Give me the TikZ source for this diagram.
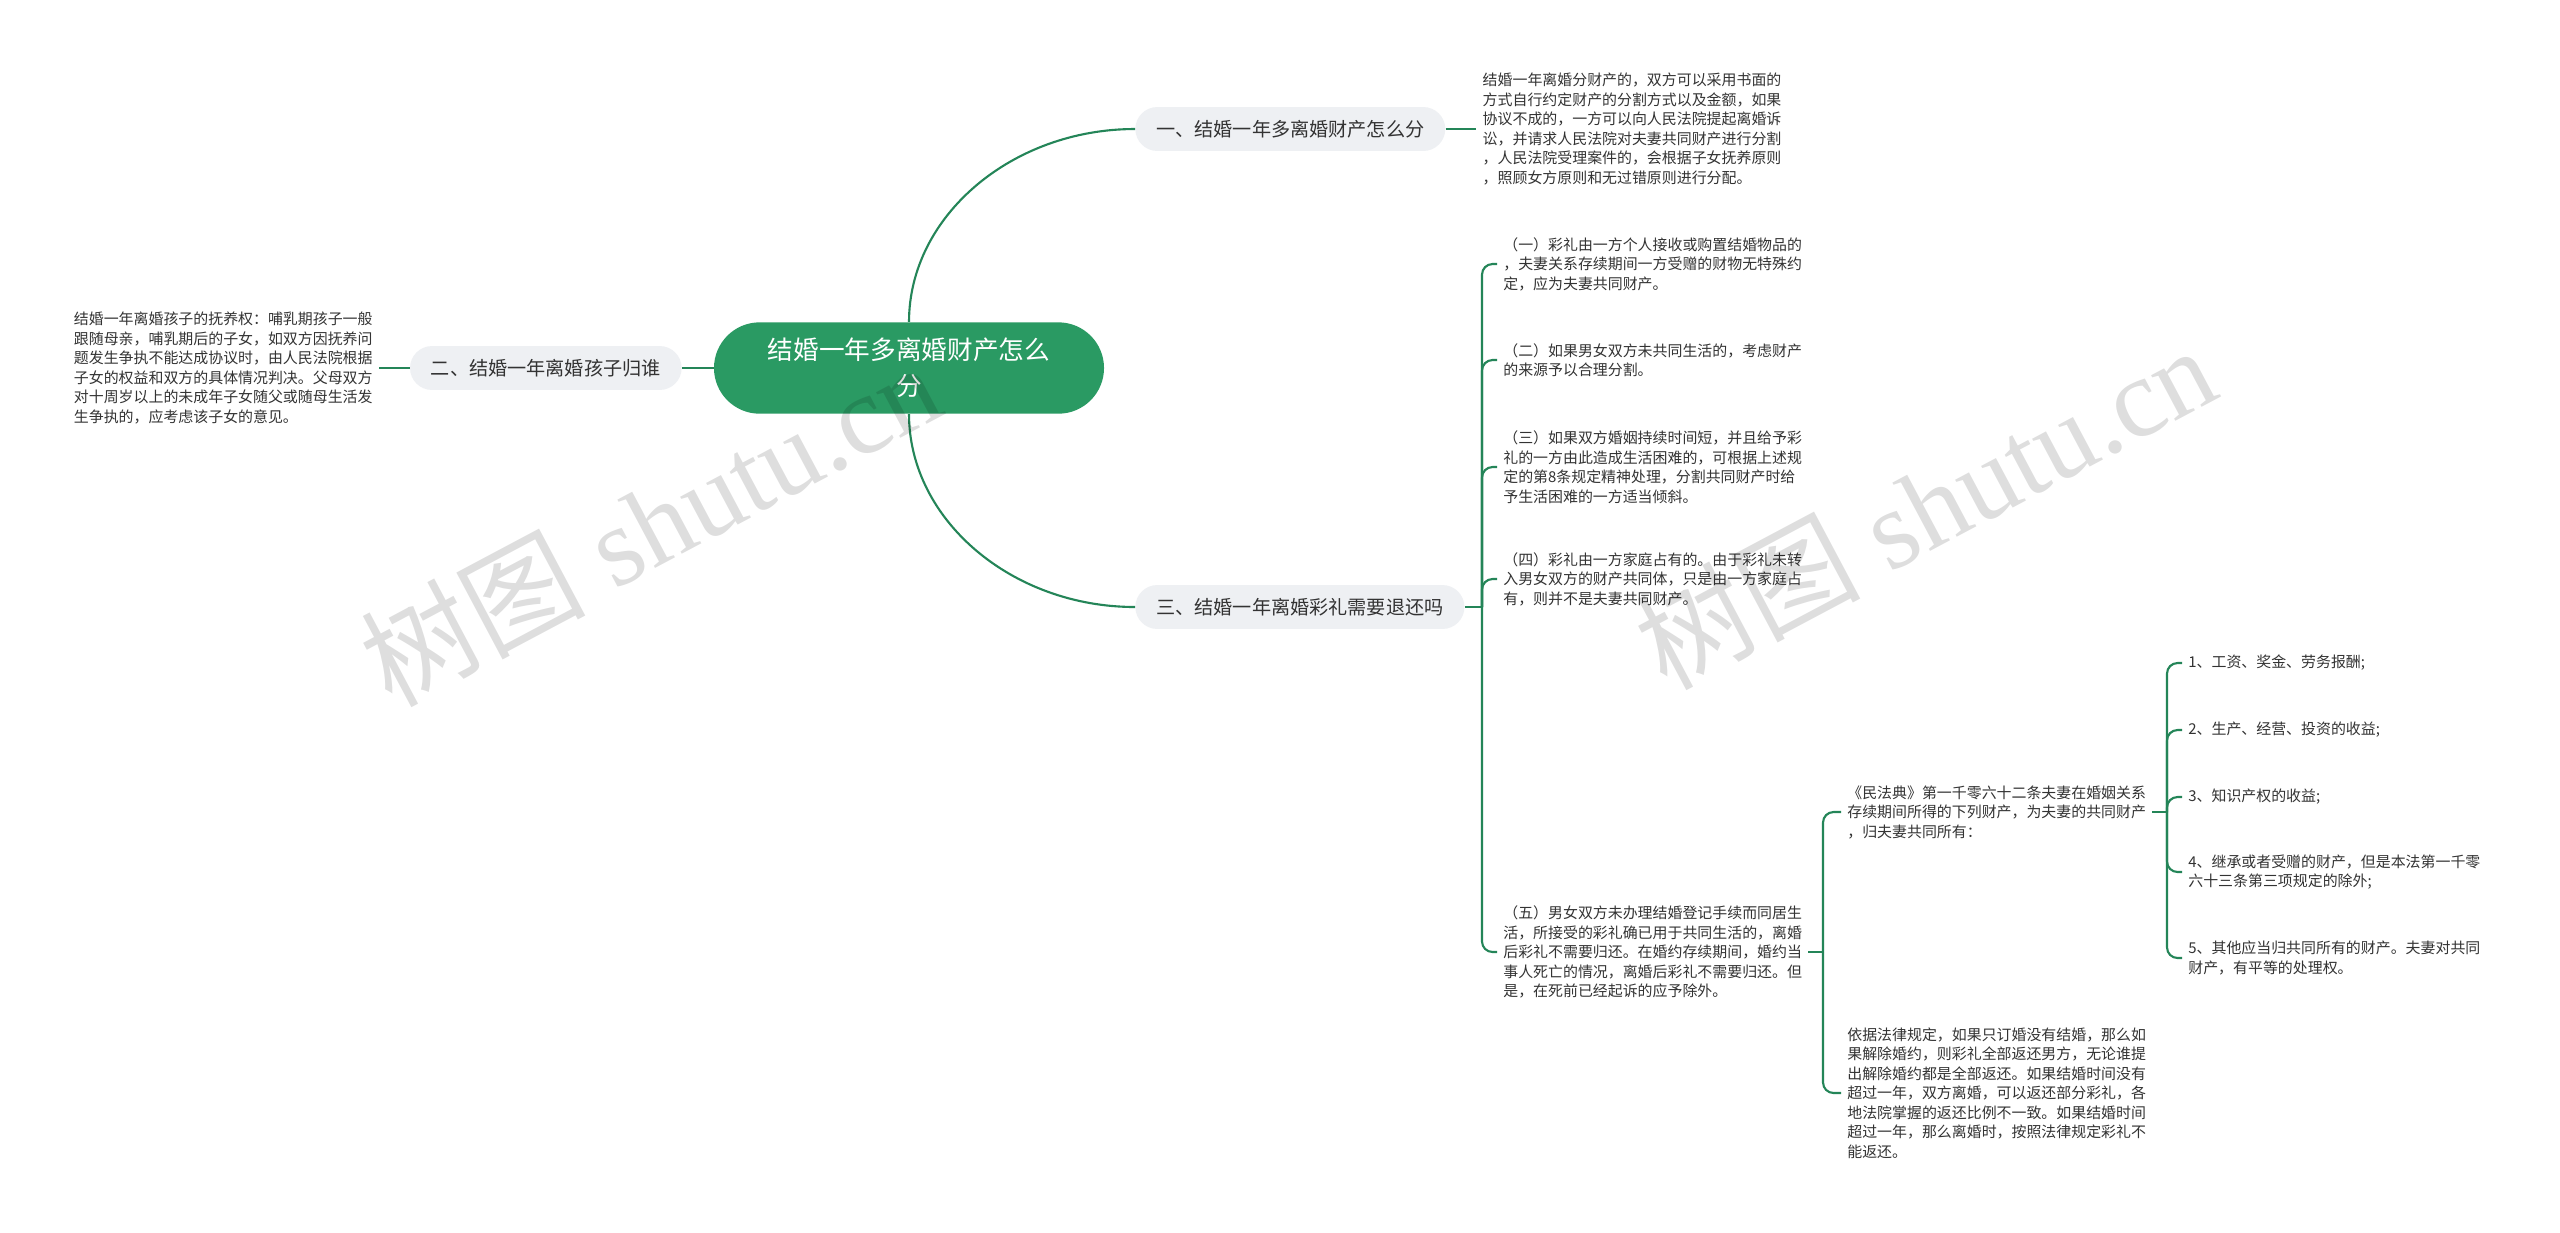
\documentclass[tikz,border=0pt]{standalone}
\usepackage{fontspec}
\newfontfamily\cjk{Noto Sans CJK SC}
\newfontfamily\wmlatin{Liberation Serif}
\usetikzlibrary{positioning}
\usepackage{xcolor}
\definecolor{rootgreen}{RGB}{42,154,99}
\definecolor{linkgreen}{RGB}{36,133,88}
\definecolor{branchgray}{RGB}{238,240,243}
\definecolor{textgray}{RGB}{51,51,51}
\newcommand{\leaffont}{\cjk\fontsize{8.5pt}{11.1pt}\selectfont}
\newcommand{\branchfont}{\cjk\fontsize{10.9pt}{13pt}\selectfont}
\newcommand{\rootfont}{\cjk\fontsize{14.6pt}{20.4pt}\selectfont}
\newcommand{\wmfont}{\wmlatin\fontsize{64pt}{64pt}\selectfont}
\tikzset{
  link/.style={draw=linkgreen,line width=1.2pt},
  root/.style={fill=rootgreen,text=white,rounded corners=26pt,font=\rootfont,align=center,minimum width=222pt,minimum height=52pt,inner sep=0pt},
  branch/.style={fill=branchgray,text=textgray,rounded corners=12.5pt,font=\branchfont,minimum height=25pt,inner xsep=11.9pt,inner ysep=0pt},
  leaf/.style={text=textgray,font=\leaffont,align=left,inner xsep=3.4pt,inner ysep=2pt},
  wmark/.style={font=\wmfont,text=black,opacity=0.13,rotate=28}
}

\begin{document}
\begin{tikzpicture}[x=0.02cm,y=-0.02cm]
\fill[white] (0,0) rectangle (2560,1232);
\useasboundingbox (0,0) rectangle (2560,1232);
% centre and first level
\node[root] (root) at (909,368) {结婚一年多离婚财产怎么\\分};
\node[branch,anchor=west] (b1) at (1135,129) {一、结婚一年多离婚财产怎么分};
\node[branch,anchor=east] (b2) at (682,368) {二、结婚一年离婚孩子归谁};
\node[branch,anchor=west] (b3) at (1135,607) {三、结婚一年离婚彩礼需要退还吗};
\draw[link] (root.north) .. controls +(0,-106) and +(-123,0) .. (b1.west);
\draw[link] (root.south) .. controls +(0,106) and +(-123,0) .. (b3.west);
\draw[link] (root.west) -- (b2.east);
% branch one and two
\node[leaf,right=17.5pt of b1] (l1) {结婚一年离婚分财产的，双方可以采用书面的\\方式自行约定财产的分割方式以及金额，如果\\协议不成的，一方可以向人民法院提起离婚诉\\讼，并请求人民法院对夫妻共同财产进行分割\\，人民法院受理案件的，会根据子女抚养原则\\，照顾女方原则和无过错原则进行分配。};
\node[leaf,left=17.5pt of b2] (l2) {结婚一年离婚孩子的抚养权：哺乳期孩子一般\\跟随母亲，哺乳期后的子女，如双方因抚养问\\题发生争执不能达成协议时，由人民法院根据\\子女的权益和双方的具体情况判决。父母双方\\对十周岁以上的未成年子女随父或随母生活发\\生争执的，应考虑该子女的意见。};
\draw[link] (b1.east) -- (l1.west);
\draw[link] (b2.west) -- (l2.east);
% branch three
\node[leaf,anchor=west] (c1) at (1497,264) {（一）彩礼由一方个人接收或购置结婚物品的\\，夫妻关系存续期间一方受赠的财物无特殊约\\定，应为夫妻共同财产。};
\node[leaf,anchor=west] (c2) at (1497,360) {（二）如果男女双方未共同生活的，考虑财产\\的来源予以合理分割。};
\node[leaf,anchor=west] (c3) at (1497,467) {（三）如果双方婚姻持续时间短，并且给予彩\\礼的一方由此造成生活困难的，可根据上述规\\定的第8条规定精神处理，分割共同财产时给\\予生活困难的一方适当倾斜。};
\node[leaf,anchor=west] (c4) at (1497,579) {（四）彩礼由一方家庭占有的。由于彩礼未转\\入男女双方的财产共同体，只是由一方家庭占\\有，则并不是夫妻共同财产。};
\node[leaf,anchor=west] (c5) at (1497,952) {（五）男女双方未办理结婚登记手续而同居生\\活，所接受的彩礼确已用于共同生活的，离婚\\后彩礼不需要归还。在婚约存续期间，婚约当\\事人死亡的情况，离婚后彩礼不需要归还。但\\是，在死前已经起诉的应予除外。};
\coordinate (j3) at (1482,607);
\draw[link] (b3.east) -- (j3);
\foreach \n in {c1,c2,c3,c4,c5}
  \draw[link,rounded corners=6pt] (j3) |- (\n.west);
% under (five)
\node[leaf,anchor=west] (d1) at (1841,812) {《民法典》第一千零六十二条夫妻在婚姻关系\\存续期间所得的下列财产，为夫妻的共同财产\\，归夫妻共同所有：};
\node[leaf,anchor=west] (d2) at (1841,1093) {依据法律规定，如果只订婚没有结婚，那么如\\果解除婚约，则彩礼全部返还男方，无论谁提\\出解除婚约都是全部返还。如果结婚时间没有\\超过一年，双方离婚，可以返还部分彩礼，各\\地法院掌握的返还比例不一致。如果结婚时间\\超过一年，那么离婚时，按照法律规定彩礼不\\能返还。};
\coordinate (j35) at (1823,952);
\draw[link] (c5.east) -- (j35);
\foreach \n in {d1,d2}
  \draw[link,rounded corners=6pt] (j35) |- (\n.west);
% civil code items
\node[leaf,anchor=west] (e1) at (2182,663) {1、工资、奖金、劳务报酬;};
\node[leaf,anchor=west] (e2) at (2182,730) {2、生产、经营、投资的收益;};
\node[leaf,anchor=west] (e3) at (2182,797) {3、知识产权的收益;};
\node[leaf,anchor=west] (e4) at (2182,872) {4、继承或者受赠的财产，但是本法第一千零\\六十三条第三项规定的除外;};
\node[leaf,anchor=west] (e5) at (2182,958) {5、其他应当归共同所有的财产。夫妻对共同\\财产，有平等的处理权。};
\coordinate (jA) at (2167,812);
\draw[link] (d1.east) -- (jA);
\foreach \n in {e1,e2,e3,e4,e5}
  \draw[link,rounded corners=6pt] (jA) |- (\n.west);
% watermarks
\node[wmark] (wm1) at (650,523) {{\cjk 树图} shutu.cn};
\node[wmark] (wm2) at (1925,506) {{\cjk 树图} shutu.cn};
\end{tikzpicture}
\end{document}
